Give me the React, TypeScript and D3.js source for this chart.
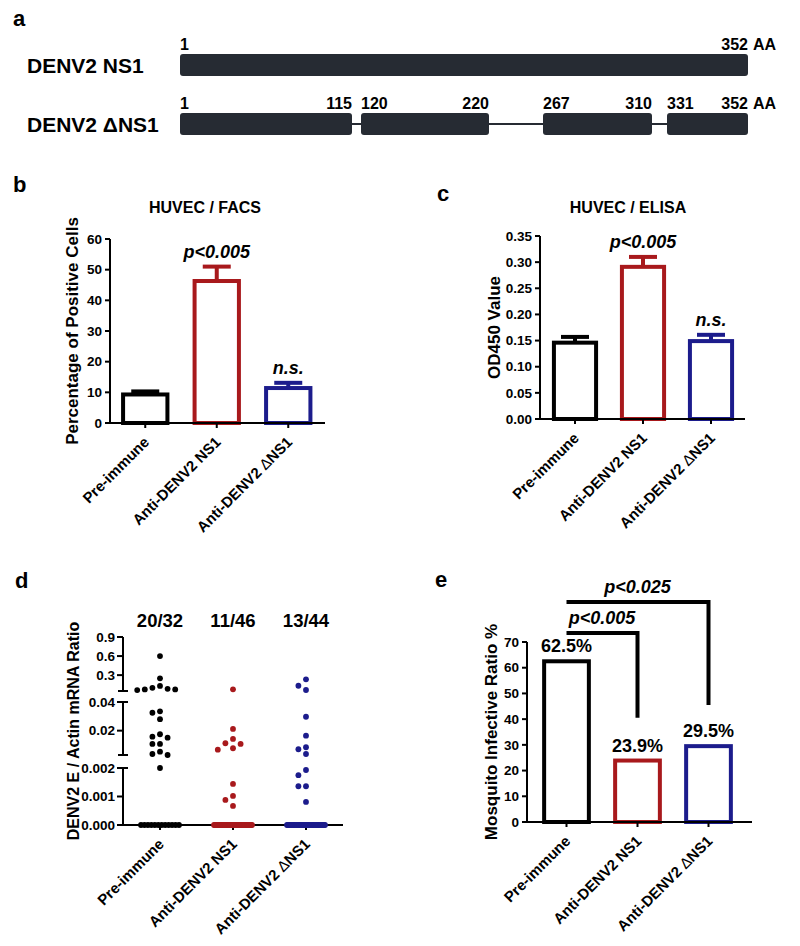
import React from "react";
import * as d3 from "d3";

const FONT = "'Liberation Sans', Arial, Helvetica, sans-serif";
const RED = "#a8191c";
const BLUE = "#1c1c8c";
const DARK = "#262b33";

// ---------- panel a ----------
const proteins = ["DENV2 NS1", "DENV2 ΔNS1"];
const aaMarks = [1, 115, 120, 220, 267, 310, 331, 352];
const fullSegments = [[1, 352]];
const deletionSegments = [[1, 115], [120, 220], [267, 310], [331, 352]];

// ---------- shared ----------
const categories = ["Pre-immune", "Anti-DENV2 NS1", "Anti-DENV2 ΔNS1"];
const groupColors = ["#000000", RED, BLUE];

// ---------- panel b ----------
const facsMean = [9.3, 46.3, 11.4];
const facsErr = [1.0, 4.7, 1.7];
const facsTicks = [0, 10, 20, 30, 40, 50, 60];
const facsSig = ["", "p<0.005", "n.s."];

// ---------- panel c ----------
const elisaMean = [0.146, 0.291, 0.149];
const elisaErr = [0.011, 0.019, 0.012];
const elisaTicks = [0, 0.05, 0.1, 0.15, 0.2, 0.25, 0.3, 0.35];
const elisaSig = ["", "p<0.005", "n.s."];

// ---------- panel d ----------
const rnaPre = [0.6, 0.25, 0.13, 0.1, 0.085, 0.075, 0.075, 0.065, 0.0335, 0.0325, 0.028, 0.0175, 0.0158, 0.0151, 0.0107, 0.0107, 0.0053, 0.0037, 0.003, 0.002];
const rnaNS1 = [0.077, 0.0212, 0.0142, 0.0112, 0.0107, 0.0077, 0.0067, 0.00144, 0.00102, 0.00088, 0.00067];
const rnaDNS1 = [0.234, 0.133, 0.066, 0.0297, 0.0165, 0.0084, 0.007, 0.0037, 0.00193, 0.00175, 0.00136, 0.00136, 0.00081];
const rnaZeros = [12, 35, 31];
const rnaCounts = ["20/32", "11/46", "13/44"];
const rnaSegDomains = [[0, 0.002], [0.003, 0.04], [0.05, 0.9]];
const rnaSegTicks = [[0, 0.001, 0.002], [0.02, 0.04], [0.3, 0.6, 0.9]];
const rnaSegFormats = [".3f", ".2f", ".1f"];

// ---------- panel e ----------
const infective = [62.5, 23.9, 29.5];
const infectiveTicks = [0, 10, 20, 30, 40, 50, 60, 70];
const compFrom = [0, 0];
const compTo = [1, 2];
const compLevel = [73.5, 85.6];
const compEnd = [40.5, 45.5];
const compLabel = ["p<0.005", "p<0.025"];

const TICK_FS = 13.5;
const CAT_FS = 15;
const SIG_FS = 18;
const AXT_FS = 17;
const LET_FS = 22;
const SW = 4;

function CatLabel({ text }: { text: string }) {
  const i = text.indexOf("Δ");
  if (i < 0) return <>{text}</>;
  return (
    <>
      {text.slice(0, i)}
      <tspan fontWeight="normal">Δ</tspan>
      {text.slice(i + 1)}
    </>
  );
}

function XAxis({ band, y, x1, x2 }: any) {
  return (
    <g>
      <line x1={x1} x2={x2} y1={y} y2={y} stroke="#000" strokeWidth={2} />
      {categories.map((c) => {
        const x = band(c) + band.bandwidth() / 2;
        return (
          <g key={c}>
            <line x1={x} x2={x} y1={y} y2={y + 5} stroke="#000" strokeWidth={2} />
            <text
              transform={`translate(${x + 5},${y + 20}) rotate(-45)`}
              textAnchor="end"
              fontSize={CAT_FS}
            >
              <CatLabel text={c} />
            </text>
          </g>
        );
      })}
    </g>
  );
}

function YAxis({ scale, ticks, fmt, x }: any) {
  const [r0, r1] = scale.range();
  return (
    <g>
      <line x1={x} x2={x} y1={r0} y2={r1} stroke="#000" strokeWidth={2} />
      {ticks.map((t: number) => (
        <g key={t}>
          <line x1={x - 5} x2={x} y1={scale(t)} y2={scale(t)} stroke="#000" strokeWidth={2} />
          <text x={x - 8} y={scale(t)} dy="0.35em" textAnchor="end" fontSize={TICK_FS}>
            {fmt(t)}
          </text>
        </g>
      ))}
    </g>
  );
}

function PanelA() {
  const aScale = d3.scaleLinear().domain(aaMarks).range([180, 352, 361, 489, 543, 652, 667, 748]);
  const rows = [
    { name: proteins[0], segs: fullSegments, top: 54 },
    { name: proteins[1], segs: deletionSegments, top: 113 },
  ];
  const h = 22;
  return (
    <g>
      <text x={13} y={26} fontSize={LET_FS}>a</text>
      {rows.map((r, i) => (
        <g key={i}>
          <text x={27} y={r.top + 19} fontSize={21}>{r.name}</text>
          {r.segs.length > 1 && (
            <line x1={aScale(1)} x2={aScale(352)} y1={r.top + h / 2} y2={r.top + h / 2} stroke={DARK} strokeWidth={2} />
          )}
          {r.segs.map(([s, e]) => (
            <g key={s}>
              <rect x={aScale(s)} y={r.top} width={aScale(e) - aScale(s)} height={h} rx={3} fill={DARK} />
              <text x={aScale(s)} y={r.top - 4} fontSize={16}>{s}</text>
              <text x={aScale(e)} y={r.top - 4} fontSize={16} textAnchor="end">{e}</text>
              {e === 352 && (
                <text x={aScale(e) + 5} y={r.top - 4} fontSize={16}>AA</text>
              )}
            </g>
          ))}
        </g>
      ))}
    </g>
  );
}

function BarPanel(p: any) {
  const band = d3.scaleBand().domain(categories).range(p.bandRange).padding(0);
  const y = d3.scaleLinear().domain([0, p.max]).range([p.y0, p.yTop]);
  const bw = band.bandwidth() * 0.62;
  const capW = 28;
  return (
    <g>
      <text x={p.letterX} y={p.letterY} fontSize={LET_FS}>{p.letter}</text>
      <text x={p.titleX} y={p.titleY} fontSize={16} textAnchor="middle">{p.title}</text>
      <text
        transform={`translate(${p.yTitleX},${(p.y0 + p.yTop) / 2}) rotate(-90)`}
        textAnchor="middle"
        fontSize={AXT_FS}
      >
        {p.yTitle}
      </text>
      {categories.map((c, i) => {
        const cx = band(c)! + band.bandwidth() / 2;
        const top = y(p.means[i]);
        const errTop = y(p.means[i] + p.errs[i]);
        return (
          <g key={c}>
            <rect x={cx - bw / 2} y={top} width={bw} height={p.y0 - top} fill="#fff" stroke={groupColors[i]} strokeWidth={SW} />
            <line x1={cx} x2={cx} y1={top} y2={errTop} stroke={groupColors[i]} strokeWidth={SW} />
            <line x1={cx - capW / 2} x2={cx + capW / 2} y1={errTop} y2={errTop} stroke={groupColors[i]} strokeWidth={SW} />
            {p.sig[i] && (
              <text x={cx} y={errTop - 9} textAnchor="middle" fontSize={SIG_FS} fontStyle="italic">
                {p.sig[i]}
              </text>
            )}
          </g>
        );
      })}
      <YAxis scale={y} ticks={p.ticks} fmt={p.fmt} x={p.x0} />
      <XAxis band={band} y={p.y0} x1={p.x0} x2={p.xEnd} />
    </g>
  );
}

function PanelD() {
  const x0 = 123;
  const xEnd = 343;
  const band = d3.scaleBand().domain(categories).range([123.5, 342.5]);
  const segRanges = [[825, 768], [755, 702], [691, 637]];
  const segScales = rnaSegDomains.map((dm, i) => d3.scaleLinear().domain(dm).range(segRanges[i]));
  const yD = (v: number) => (v <= 0.002 ? segScales[0](v) : v <= 0.04 ? segScales[1](v) : segScales[2](v));
  const groups = [rnaPre, rnaNS1, rnaDNS1];
  const r = 2.9;
  const step = 7.6;
  const minDist = 6.5;

  const dots: any[] = [];
  groups.forEach((vals, gi) => {
    const cx = band(categories[gi])! + band.bandwidth() / 2;
    const pts = vals.map((v) => ({ v, y: yD(v) })).sort((a, b) => a.y - b.y);
    const placed: { x: number; y: number }[] = [];
    pts.forEach((pt) => {
      for (const k of [0, -1, 1, -2, 2, -3, 3, -4, 4]) {
        const x = cx + k * step;
        if (placed.every((q) => Math.hypot(q.x - x, q.y - pt.y) >= minDist)) {
          placed.push({ x, y: pt.y });
          break;
        }
      }
    });
    placed.forEach((q, j) => dots.push({ key: `${gi}-${j}`, x: q.x, y: q.y, c: groupColors[gi] }));
    const n = rnaZeros[gi];
    const half = 19;
    for (let j = 0; j < n; j++) {
      dots.push({ key: `${gi}-z${j}`, x: cx - half + (2 * half * j) / (n - 1), y: yD(0), c: groupColors[gi] });
    }
  });

  return (
    <g>
      <text x={15} y={588} fontSize={LET_FS}>d</text>
      <text transform={`translate(79,${(825 + 637) / 2}) rotate(-90)`} textAnchor="middle" fontSize={16}>
        DENV2 E / Actin mRNA Ratio
      </text>
      {categories.map((c, i) => (
        <text key={c} x={band(c)! + band.bandwidth() / 2} y={627} textAnchor="middle" fontSize={18.5}>
          {rnaCounts[i]}
        </text>
      ))}
      {segScales.map((s, i) => {
        const [a, b] = s.range();
        const f = d3.format(rnaSegFormats[i]);
        return (
          <g key={i}>
            <line x1={x0} x2={x0} y1={a} y2={b} stroke="#000" strokeWidth={2} />
            {i > 0 && <line x1={x0 - 5} x2={x0 + 5} y1={a} y2={a} stroke="#000" strokeWidth={2} />}
            {i < 2 && <line x1={x0 - 5} x2={x0 + 5} y1={b} y2={b} stroke="#000" strokeWidth={2} />}
            {rnaSegTicks[i].map((t) => (
              <g key={t}>
                <line x1={x0 - 6} x2={x0} y1={s(t)} y2={s(t)} stroke="#000" strokeWidth={2} />
                <text x={x0 - 8} y={s(t)} dy="0.35em" textAnchor="end" fontSize={TICK_FS}>
                  {f(t)}
                </text>
              </g>
            ))}
          </g>
        );
      })}
      <XAxis band={band} y={825} x1={x0} x2={xEnd} />
      {dots.map((d) => (
        <circle key={d.key} cx={d.x} cy={d.y} r={r} fill={d.c} />
      ))}
    </g>
  );
}

function PanelE() {
  const x0 = 527;
  const y0 = 822;
  const band = d3.scaleBand().domain(categories).range([531, 744]);
  const y = d3.scaleLinear().domain([0, 70]).range([y0, 642]);
  const bw = band.bandwidth() * 0.63;
  const cxs = categories.map((c) => band(c)! + band.bandwidth() / 2);
  const fmt = (v: number) => `${d3.format(".1f")(v)}%`;
  return (
    <g>
      <text x={435} y={587} fontSize={LET_FS}>e</text>
      <text transform={`translate(497,${(y0 + 642) / 2}) rotate(-90)`} textAnchor="middle" fontSize={AXT_FS}>
        Mosquito Infective Ratio %
      </text>
      {categories.map((c, i) => (
        <g key={c}>
          <rect x={cxs[i] - bw / 2} y={y(infective[i])} width={bw} height={y0 - y(infective[i])} fill="#fff" stroke={groupColors[i]} strokeWidth={SW} />
          <text x={cxs[i]} y={y(infective[i]) - 9} textAnchor="middle" fontSize={18}>
            {fmt(infective[i])}
          </text>
        </g>
      ))}
      {compLabel.map((lab, i) => {
        const xa = cxs[compFrom[i]];
        const xb = cxs[compTo[i]];
        const yl = y(compLevel[i]);
        return (
          <g key={lab}>
            <path d={`M${xa},${yl}H${xb}V${y(compEnd[i])}`} fill="none" stroke="#000" strokeWidth={4} />
            <text x={(xa + xb) / 2} y={yl - 9} textAnchor="middle" fontSize={SIG_FS} fontStyle="italic">
              {lab}
            </text>
          </g>
        );
      })}
      <YAxis scale={y} ticks={infectiveTicks} fmt={d3.format("d")} x={x0} />
      <XAxis band={band} y={y0} x1={x0} x2={752} />
    </g>
  );
}

export default function App() {
  return (
    <svg
      width={800}
      height={946}
      style={{ position: "absolute", left: 0, top: 0, display: "block" }}
      fontFamily={FONT}
      fontWeight="bold"
    >
      <rect width={800} height={946} fill="#fff" />
      <PanelA />
      <BarPanel
        letter="b" letterX={13} letterY={192}
        title="HUVEC / FACS" titleX={205} titleY={213}
        yTitle="Percentage of Positive Cells" yTitleX={78}
        x0={110} xEnd={325} bandRange={[109.5, 324]}
        y0={423} yTop={239} max={60}
        ticks={facsTicks} fmt={d3.format("d")}
        means={facsMean} errs={facsErr} sig={facsSig}
      />
      <BarPanel
        letter="c" letterX={437} letterY={201}
        title="HUVEC / ELISA" titleX={628} titleY={213}
        yTitle="OD450 Value" yTitleX={500}
        x0={540} xEnd={745} bandRange={[541, 745]}
        y0={419} yTop={236} max={0.35}
        ticks={elisaTicks} fmt={d3.format(".2f")}
        means={elisaMean} errs={elisaErr} sig={elisaSig}
      />
      <PanelD />
      <PanelE />
    </svg>
  );
}
